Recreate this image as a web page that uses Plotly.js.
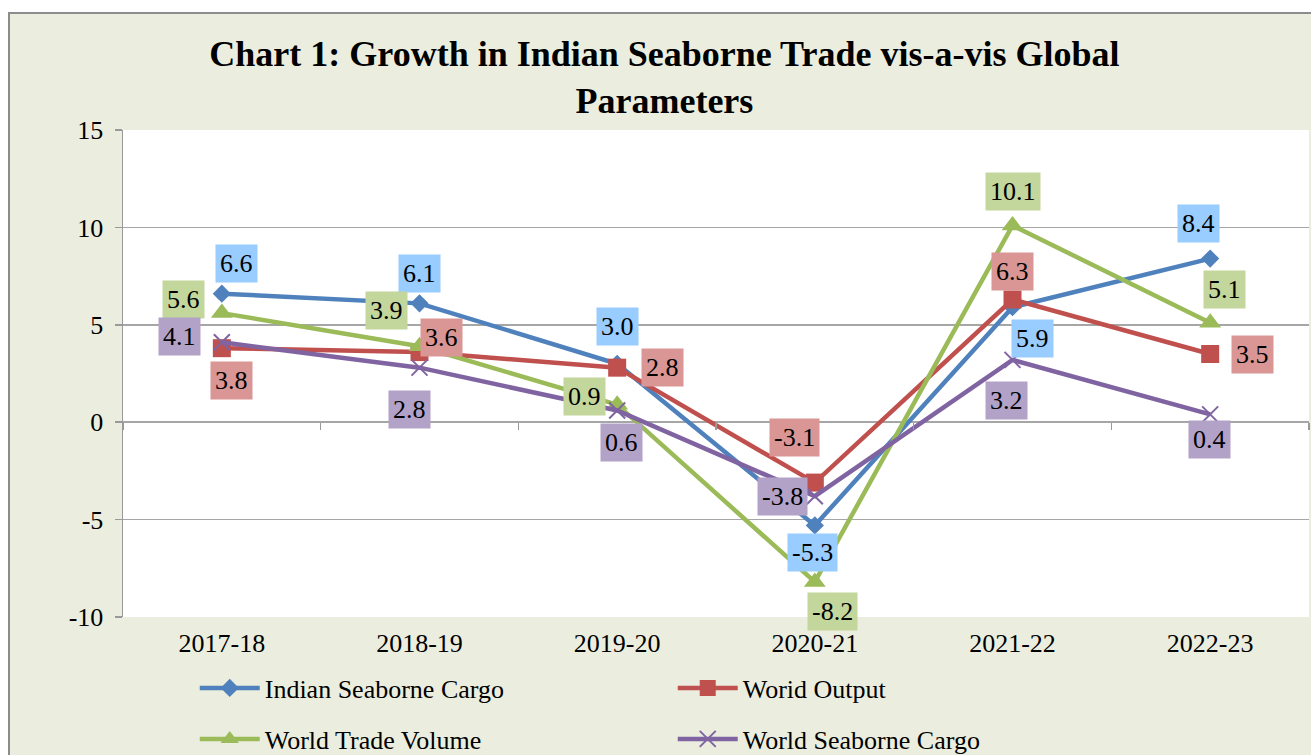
<!DOCTYPE html>
<html>
<head>
<meta charset="utf-8">
<script src="https://cdn.plot.ly/plotly-3.0.1.min.js"></script>
<style>
  html, body { margin: 0; padding: 0; background: #ffffff; overflow: hidden; }
  #frame { position: absolute; left: 8px; top: 12px; width: 1310px; height: 750px;
           border-left: 2px solid #8c8c8c; border-top: 2px solid #8c8c8c; background: #EBEEDF; }
  #chart { position: absolute; left: 0; top: 0; width: 1301px; height: 741px; }
</style>
</head>
<body>
<div id="frame"><div id="chart"></div></div>
<script>
// ---- Data ----
const categories = ["2017-18", "2018-19", "2019-20", "2020-21", "2021-22", "2022-23"];
const indianSeaborneCargo = [6.6, 6.1, 3.0, -5.3, 5.9, 8.4];
const worldOutput = [3.8, 3.6, 2.8, -3.1, 6.3, 3.5];
const worldTradeVolume = [5.6, 3.9, 0.9, -8.2, 10.1, 5.1];
const worldSeaborneCargo = [4.1, 2.8, 0.6, -3.8, 3.2, 0.4];
const seriesNames = ["Indian Seaborne Cargo", "Worid Output", "World Trade Volume", "World Seaborne Cargo"];
const yTickValues = [-10, -5, 0, 5, 10, 15];
const yTickLabels = ["-10", "-5", "0", "5", "10", "15"];

// ---- Styles ----
const FONT = "Liberation Serif";
const lineColors = ["#4F81BD", "#C0504D", "#9BBB59", "#8064A2"];
const boxColors = ["#99CCFF", "#D99694", "#C3D69B", "#B3A2C7"];
const symbols = ["diamond", "square", "triangle-up", "x-thin"];
const markerSizes = [14, 18, 19, 16];
const legendIds = ["legend", "legend", "legend2", "legend2"];
// pixel offsets of each data label box from its point [dx, dy] (screen px, +dy = down)
const labelOffsets = [
  [[15, -30], [0, -30], [0, -37], [-2, 27], [20, 31], [-12, -35]],
  [[10, 32], [22, -15], [45, 0], [-20, -45], [0, -28], [42, 0]],
  [[-38, -14], [-33, -36], [-33, -8], [18, 30], [0, -34], [14, -33]],
  [[-42, -6], [-10, 42], [4, 32], [-32, 0], [-6, 41], [-1, 25]]
];

const allSeries = [indianSeaborneCargo, worldOutput, worldTradeVolume, worldSeaborneCargo];

const traces = allSeries.map((vals, i) => ({
  type: "scatter",
  mode: "lines+markers",
  name: seriesNames[i],
  x: categories,
  y: vals,
  line: { color: lineColors[i], width: 4.5 },
  marker: symbols[i] === "x-thin"
    ? { symbol: symbols[i], size: markerSizes[i], color: lineColors[i], line: { color: lineColors[i], width: 2 } }
    : { symbol: symbols[i], size: markerSizes[i], color: lineColors[i] },
  legend: legendIds[i],
  hoverinfo: "x+y+name"
}));

// invisible helper trace so the zero-crossing category axis (tick marks) is drawn
traces.push({
  type: "scatter", mode: "markers", x: categories, y: categories.map(() => null),
  xaxis: "x2", yaxis: "y", showlegend: false, hoverinfo: "skip", marker: { opacity: 0 }
});

const annotations = [];
allSeries.forEach((vals, i) => {
  vals.forEach((v, j) => {
    annotations.push({
      x: categories[j], y: v, xref: "x", yref: "y",
      text: v.toFixed(1), showarrow: false,
      xshift: labelOffsets[i][j][0], yshift: -labelOffsets[i][j][1],
      bgcolor: boxColors[i], borderpad: 4,
      font: { family: FONT, size: 26, color: "#000000" }
    });
  });
});

const layout = {
  width: 1301, height: 741,
  margin: { l: 113, r: 2, t: 116, b: 138 },
  font: { family: FONT, size: 26, color: "#000000" },
  paper_bgcolor: "#EBEEDF",
  plot_bgcolor: "#FFFFFF",
  title: {
    text: "<b>Chart 1: Growth in Indian Seaborne Trade vis-a-vis Global<br>Parameters</b>",
    font: { family: FONT, size: 36, color: "#000000" },
    xref: "container", x: 0.503, xanchor: "center",
    yref: "container", y: 0.930, yanchor: "top"
  },
  xaxis: {
    type: "category", categoryorder: "array", categoryarray: categories,
    range: [-0.5, 5.5],
    showgrid: false, zeroline: false, showline: false, ticks: "",
    tickfont: { family: FONT, size: 26, color: "#000000" },
    ticklabelstandoff: 8
  },
  xaxis2: {
    type: "category", categoryorder: "array", categoryarray: categories,
    overlaying: "x", matches: "x", anchor: "free", position: 0.4, side: "bottom",
    showgrid: false, zeroline: false, showline: false, showticklabels: false,
    ticks: "outside", tickson: "boundaries", ticklen: 7, tickwidth: 1.5, tickcolor: "#999999"
  },
  yaxis: {
    range: [-10, 15], tickmode: "array", tickvals: yTickValues, ticktext: yTickLabels,
    showgrid: true, gridcolor: "#A6A6A6", gridwidth: 1.5, zeroline: false,
    showline: true, linecolor: "#999999", linewidth: 1.5,
    ticks: "outside", ticklen: 7, tickwidth: 1.5, tickcolor: "#999999",
    tickfont: { family: FONT, size: 26, color: "#000000" },
    ticklabelstandoff: 6
  },
  legend: {
    orientation: "h", xref: "container", yref: "container",
    x: 0.142, y: 0.0904, xanchor: "left", yanchor: "middle",
    entrywidth: 403, entrywidthmode: "pixels", itemwidth: 60,
    bgcolor: "rgba(0,0,0,0)", font: { family: FONT, size: 26, color: "#000000" }
  },
  legend2: {
    orientation: "h", xref: "container", yref: "container",
    x: 0.142, y: 0.0216, xanchor: "left", yanchor: "middle",
    entrywidth: 403, entrywidthmode: "pixels", itemwidth: 60,
    bgcolor: "rgba(0,0,0,0)", font: { family: FONT, size: 26, color: "#000000" }
  },
  annotations: annotations,
  showlegend: true
};

Plotly.newPlot("chart", traces, layout, { displayModeBar: false, staticPlot: true });
</script>
</body>
</html>
